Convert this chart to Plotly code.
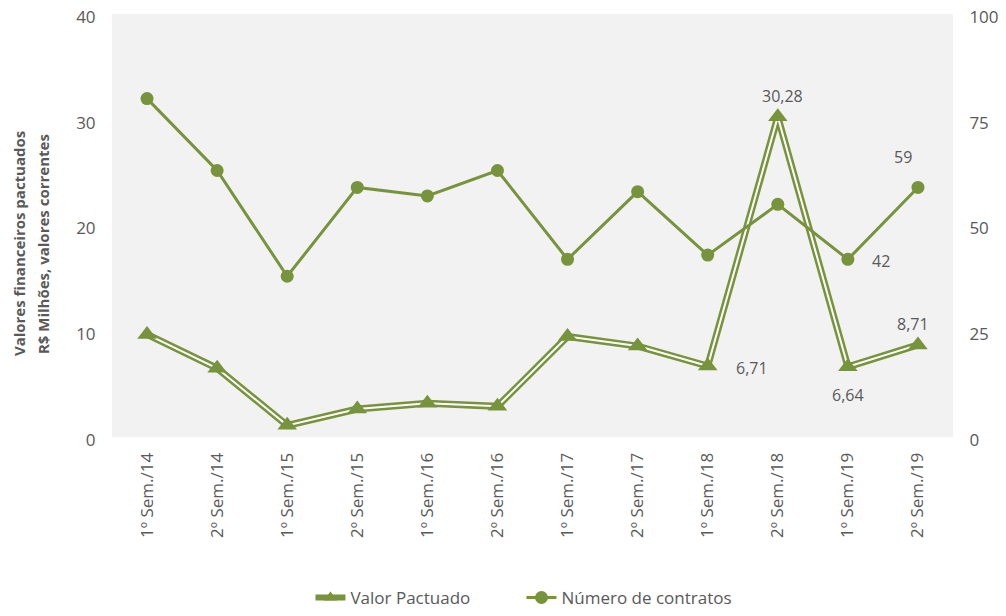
import plotly.graph_objects as go

categorias = ["1º Sem./14", "2º Sem./14", "1º Sem./15", "2º Sem./15", "1º Sem./16", "2º Sem./16",
              "1º Sem./17", "2º Sem./17", "1º Sem./18", "2º Sem./18", "1º Sem./19", "2º Sem./19"]
valor_pactuado = [9.7, 6.5, 1.1, 2.65, 3.2, 2.9, 9.5, 8.6, 6.71, 30.28, 6.64, 8.71]
numero_contratos = [80, 63, 38, 59, 57, 63, 42, 58, 43, 55, 42, 59]

# labelled points (indices)
rotulos_valor = [8, 9, 10, 11]
rotulos_contratos = [10, 11]

GREEN = "#77933C"
TXT = "#595959"
FONT = "Open Sans"

x = list(range(len(categorias)))

fig = go.Figure()
# Valor Pactuado: double line (thick green + white inner line) with triangles
fig.add_trace(go.Scatter(x=x, y=valor_pactuado, mode="lines", name="Valor Pactuado",
                         line=dict(color=GREEN, width=7), showlegend=False, yaxis="y"))
fig.add_trace(go.Scatter(x=x, y=valor_pactuado, mode="lines", line=dict(color="white", width=2),
                         showlegend=False, hoverinfo="skip", yaxis="y"))
fig.add_trace(go.Scatter(x=x, y=valor_pactuado, mode="markers", name="Valor Pactuado",
                         marker=dict(symbol="triangle-up", size=17, color=GREEN),
                         showlegend=False, yaxis="y"))
# legend entry for Valor Pactuado
fig.add_trace(go.Scatter(x=[None], y=[None], mode="lines+markers", name="Valor Pactuado",
                         line=dict(color=GREEN, width=6),
                         marker=dict(symbol="triangle-up", size=12, color=GREEN), yaxis="y"))
# Número de contratos
fig.add_trace(go.Scatter(x=x, y=numero_contratos, mode="lines+markers", name="Número de contratos",
                         line=dict(color=GREEN, width=3),
                         marker=dict(symbol="circle", size=13, color=GREEN), yaxis="y2"))

def fmt(v):
    return f"{v:.2f}".replace(".", ",")

ann = []
shifts_valor = {8: (44, -2), 9: (5, 21), 10: (0, -28), 11: (-5, 21)}
for i in rotulos_valor:
    dx, dy = shifts_valor[i]
    ann.append(dict(x=x[i], y=valor_pactuado[i], xref="x", yref="y", text=fmt(valor_pactuado[i]),
                    showarrow=False, xshift=dx, yshift=dy, font=dict(size=16, color=TXT, family=FONT)))
shifts_c = {10: (33, -2), 11: (-15, 30)}
for i in rotulos_contratos:
    dx, dy = shifts_c[i]
    ann.append(dict(x=x[i], y=numero_contratos[i], xref="x", yref="y2", text=str(numero_contratos[i]),
                    showarrow=False, xshift=dx, yshift=dy, font=dict(size=16, color=TXT, family=FONT)))

PLOT_W = 841.0
for xpix, txt in [(11, "Valores financeiros pactuados"), (35, "R$ Milhões, valores correntes")]:
    ann.append(dict(x=(xpix - 104) / PLOT_W, y=0.456, xref="paper", yref="paper", textangle=-90,
                    showarrow=False, text=f"<b>{txt}</b>",
                    font=dict(size=15, color=TXT, family=FONT), xanchor="center", yanchor="middle"))

fig.update_layout(
    width=998, height=600,
    margin=dict(l=104, r=53, t=6, b=171, autoexpand=False),
    paper_bgcolor="white", plot_bgcolor="#F2F2F2",
    font=dict(family=FONT, color=TXT, size=15),
    annotations=ann,
    xaxis=dict(tickmode="array", tickvals=x, ticktext=categorias, tickangle=-90,
               range=[-0.5, len(categorias) - 0.5], showgrid=False, zeroline=False, showline=False,
               ticks="outside", ticklen=8, tickcolor="rgba(0,0,0,0)", automargin=False,
               tickfont=dict(size=17, color=TXT, family=FONT)),
    yaxis=dict(range=[0, 40], dtick=10, showgrid=False, zeroline=False, showline=False,
               ticks="outside", ticklen=12, tickcolor="rgba(0,0,0,0)", automargin=False,
               ticklabeloverflow="allow", ticklabelshift=3,
               tickfont=dict(size=17, color=TXT, family=FONT)),
    yaxis2=dict(range=[0, 100], dtick=25, overlaying="y", side="right", showgrid=False,
                zeroline=False, showline=False, ticks="outside", ticklen=12, automargin=False,
                ticklabeloverflow="allow", ticklabelshift=3,
                tickcolor="rgba(0,0,0,0)", tickfont=dict(size=17, color=TXT, family=FONT)),
    legend=dict(orientation="h", x=0.236, xanchor="left", y=-0.338, yanchor="top",
                font=dict(size=17, color=TXT, family=FONT), entrywidth=166,
                bgcolor="rgba(0,0,0,0)"),
    showlegend=True,
)

fig.write_html("out.html")
